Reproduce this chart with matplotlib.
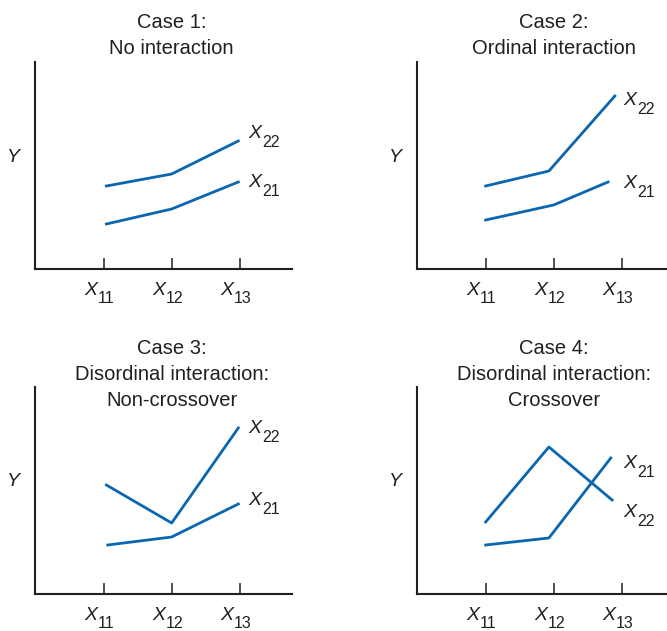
# interaction_cases.py
# Four panel sketch of interaction types between two factors

import matplotlib.pyplot as plt
from matplotlib.transforms import offset_copy

plt.rcParams['font.family'] = 'Liberation Sans'

BLUE = '#0a66b0'
INK = '#231f20'

tick_subs = ['11', '12', '13']
series_subs = ['21', '22']

titles = [
    ['Case 1:', 'No interaction'],
    ['Case 2:', 'Ordinal interaction'],
    ['Case 3:', 'Disordinal interaction:', 'Non-crossover'],
    ['Case 4:', 'Disordinal interaction:', 'Crossover'],
]

# x positions of the line vertices (levels of factor 1)
x21 = [[1.04, 2.0, 2.98], [1.0, 2.0, 2.8], [1.06, 2.0, 2.98], [1.0, 1.93, 2.84]]
x22 = [[1.04, 2.0, 2.98], [1.0, 1.93, 2.9], [1.04, 2.0, 2.98], [1.0, 1.93, 2.86]]
# Y values (arbitrary units)
y21 = [[45, 60, 87], [49, 64, 87], [49, 57, 90], [49, 56, 136]]
y22 = [[83, 95, 128], [83, 98, 173], [109, 71, 166], [72, 147, 94]]
# where the series names sit (baseline of the X)
label_x = [3.32, 3.22, 3.32, 3.22]
label_y21 = [82, 81, 89, 126]
label_y22 = [131, 164, 161, 77]

W, H = 667, 631
fig = plt.figure(figsize=(W / 100, H / 100), dpi=100)


def sub_text(ax, x, y, sub, drop):
    """Italic X with a big upright subscript, joined at (x, y)."""
    tr = ax.transData
    ax.text(x, y, 'X', style='italic', fontsize=14, color=INK,
            ha='right', va='baseline', clip_on=False)
    ax.text(x, y, sub, fontsize=11.5, color=INK, ha='left', va='baseline',
            transform=offset_copy(tr, fig=fig, x=0.5, y=-drop, units='dots'),
            clip_on=False)


# panel boxes in pixels: left spine, bottom spine
boxes = [(35, 269), (417, 269), (35, 594), (417, 594)]
ax_w, ax_h = 257, 207

for i, (lx, by) in enumerate(boxes):
    ax = fig.add_axes([lx / W, (H - by) / H, ax_w / W, ax_h / H])
    ax.set_xlim(-0.01, 3.77)
    ax.set_ylim(0, 207)
    for s in ['top', 'right']:
        ax.spines[s].set_visible(False)
    for s in ['left', 'bottom']:
        ax.spines[s].set_linewidth(1.5)
        ax.spines[s].set_color(INK)
    ax.set_xticks([1, 2, 3])
    ax.set_xticklabels([])
    ax.set_yticks([])
    ax.tick_params(axis='x', direction='in', length=8, width=1.1, color=INK)

    for k, sub in enumerate(tick_subs):
        sub_text(ax, k + 1 - 0.09, -26, sub, 8)

    ax.plot(x21[i], y21[i], color=BLUE, lw=2)
    ax.plot(x22[i], y22[i], color=BLUE, lw=2)
    sub_text(ax, label_x[i], label_y21[i], series_subs[0], 9)
    sub_text(ax, label_x[i], label_y22[i], series_subs[1], 9)

    ax.text(-0.33, 112, 'Y', style='italic', fontsize=14, color=INK,
            ha='center', va='center')

    for k, line in enumerate(titles[i]):
        ax.text(2, 246 - 26 * k, line, fontsize=14.5, color=INK,
                ha='center', va='center', clip_on=False)

plt.savefig('out.png', dpi=100)
